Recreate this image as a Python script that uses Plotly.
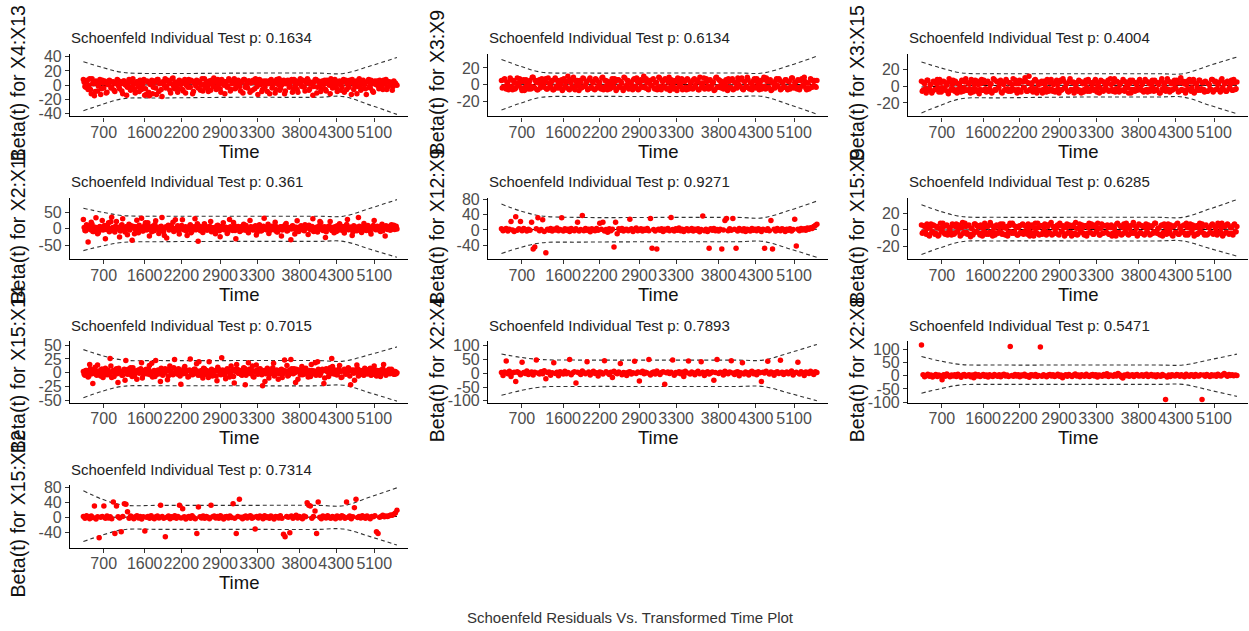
import plotly.graph_objects as go

# ---------------- data ----------------
time_tick_labels = ["700", "1600", "2200", "2900", "3300", "3800", "4300", "5100"]
time_tick_pos = [0.0648, 0.1955, 0.3121, 0.4362, 0.5538, 0.6884, 0.806, 0.9276]  # km-transformed time

band_time = [0, 0.0603, 0.1256, 0.2462, 0.4975, 0.7487, 0.8291, 0.9146, 1.0]

terms = ["X4:X13", "X3:X9", "X3:X15", "X2:X11", "X12:X9", "X15:X9",
         "X15:X14", "X2:X4", "X2:X8", "X15:X12"]
p_values = ["0.1634", "0.6134", "0.4004", "0.361", "0.9271", "0.6285",
            "0.7015", "0.7893", "0.5471", "0.7314"]

resid_X4_X13 = [
    8, -2, 5, -6, 9, -12, 3, -15, 6, -8, 2, -13, 7, -4, 4, -10, 1, 6, -3, 5,
    -9, 3, 7, -5, 2, -12, 6, 0, -3, 8, -7, 4, 1, -11, 5, -2, 7, -6, 3, -14,
    -13, 5, -15, 2, -12, 6, -4, 8, -9, 3, -16, 4, 9, -2, 6, -7, 2, 10, -5, 4,
    -10, 7, 1, -6, 5, -11, 3, 8, -3, 6, -9, 2, 7, -4, 5, 0, -8, 9, 3, -2,
    6, -7, 4, 10, -3, 7, 1, -5, 8, 2, -12, 5, -1, 7, -6, 3, 9, -4, 6, 0,
    -8, 5, 8, -3, 2, 6, -10, 4, 7, -5, 3, -13, 8, 1, -6, 6, 2, -9, 5, 7,
    -4, 3, -11, 8, 1, -7, 6, 4, -12, 2, 7, -3, 5, -10, 8, 0, -6, 4, 9, -2,
    6, -8, 3, 7, -5, 2, -14, 5, 8, -3, 4, -9, 6, 1, -6, 7, 3, -12, 5, -2,
    8, -4, 2, 6, -7, 4, -10, 7, 1, -3, 5, 8, -6, 3, -12, 6, 0, -5, 7, 2,
    -13, 5, -2, 7, -8, 4, 1, 6, -5, 3, -3, 7, 2, -6, 5, 0, 4, -2, 3, 1]
resid_X4_X13_b = [
    4, -3, 7, 0, -6, 9, 2, -9, 5, -1, 8, -5, 3, 6, -11, 1, 7, -4, 4, -7,
    2, 8, -2, 5, -8, 6, 1, -14, 3, 7, -3, 9, -6, 2, 5, -9, 4, 0, 8, -5,
    6, -10, 1, 7, -3, 4, -13, 8, 2, -6, 5, 0, -4, 7, 3, -11, 9, -2, 4, 1,
    -5, 6, 2, -8, 8, 0, -3, 5, 7, -12, 3, -1, 6, 4, -7, 9, 1, -4, 5, -9,
    2, 7, -2, 4, -6, 8, 3, -10, 6, 0, 5, -3, 9, -8, 2, 6, -5, 1, 7, -2,
    4, -11, 8, 0, -4, 6, 3, -7, 5, 9, -2, 1, 7, -9, 4, -3, 6, 2, -12, 8,
    0, 5, -6, 3, 9, -4, 1, 7, -8, 5, 2, -1, 8, -5, 4, 6, -10, 3, 0, 7,
    -3, 5, 9, -7, 2, 4, -2, 8, -11, 6, 1, -5, 3, 7, -8, 5, 0, 9, -4, 2,
    6, -9, 4, 1, -3, 8, 5, -6, 2, 7, -13, 3, 0, 6, -2, 9, -7, 4, 1, -5,
    5, 8, -4, 2, -10, 6, 3, -1, 7, 4, -6, 2, 8, -3, 5, 1, -7, 6, 3, 0]
resid_X3_X9 = [
    5, -3, 7, -5, 3, -2, 6, -6, 2, -4, 8, -1, 4, -7, 6, -3, 1, -5, 5, -2,
    9, -4, 3, -6, 6, 0, 4, -3, 7, -5, 2, -2, 5, -6, 8, -4, 3, -1, 6, -5,
    4, -3, 10, -6, 2, -4, 6, -2, 5, -7, 3, -3, 7, -1, 4, -5, 8, -4, 2, -6,
    6, -2, 3, -5, 9, -3, 5, -6, 1, -4, 7, -2, 4, -5, 6, -3, 2, -7, 8, -1,
    5, -4, 3, -6, 7, -2, 4, -5, 6, -3, 10, -4, 2, -6, 5, -1, 7, -5, 3, -3,
    8, -6, 4, -2, 6, -4, 9, -3, 2, -5, 5, -7, 3, -1, 7, -4, 4, -6, 6, -2,
    3, -5, 7, -3, 5, -6, 2, -2, 8, -4, 4, -5, 6, -1, 3, -6, 9, -3, 5, -4,
    2, -2, 6, -7, 4, -3, 7, -5, 3, -4, 5, -2, 8, -6, 4, -3, 6, -5, 2, -1,
    7, -4, 3, -6, 5, -2, 9, -5, 4, -3, 6, -6, 2, -4, 7, -2, 5, -5, 3, -3,
    6, -6, 4, -2, 8, -4, 3, -5, 5, -3, 7, -1, 4, -6, 2, -4, 6, -2, 5, -3]
resid_X3_X9_b = [
    -4, 6, -2, 3, -6, 8, -3, 5, -5, 2, -1, 7, -4, 4, -7, 6, -2, 3, -5, 9,
    -3, 5, -6, 2, -4, 7, -1, 4, -5, 8, -3, 3, -6, 6, -2, 5, -4, 1, -7, 7,
    -2, 4, -5, 6, -3, 9, -6, 3, -1, 5, -4, 8, -2, 2, -6, 6, -3, 4, -5, 7,
    -4, 3, -2, 8, -6, 5, -1, 4, -5, 2, -3, 7, -7, 6, -2, 4, -4, 9, -3, 5,
    -5, 2, -1, 6, -4, 8, -6, 3, -2, 5, -3, 7, -5, 4, -1, 6, -4, 2, -6, 9,
    -2, 5, -3, 7, -5, 3, -7, 6, -1, 4, -4, 8, -2, 2, -6, 5, -3, 7, -5, 3,
    -4, 6, -1, 4, -6, 9, -3, 2, -5, 7, -2, 5, -4, 3, -7, 8, -3, 6, -1, 4,
    -5, 2, -2, 7, -4, 5, -6, 3, -3, 8, -1, 6, -5, 4, -2, 9, -4, 2, -6, 5,
    -3, 7, -1, 3, -5, 6, -2, 8, -4, 4, -7, 2, -3, 5, -1, 7, -6, 3, -2, 6,
    -4, 4, -5, 8, -2, 3, -3, 6, -6, 5, -1, 9, -4, 2, -5, 7, -3, 4, -2, 5]
resid_X3_X15 = [
    6, -5, 3, -8, 7, -3, 2, -6, 5, -4, 8, -7, 4, -2, 6, -5, 1, -9, 5, -3,
    7, -6, 4, -4, 2, -7, 6, -2, 9, -5, 3, -8, 5, -3, 7, -6, 2, -4, 8, -5,
    4, -7, 6, -3, 3, -6, 8, -5, 5, -2, 7, -8, 2, -4, 6, -6, 4, -3, 9, -5,
    3, -4, 7, -7, 5, -2, 6, -6, 12, -5, 4, -3, 8, -8, 2, -5, 6, -4, 3, -7,
    5, -3, 8, -6, 4, -5, 2, -8, 7, -4, 6, -2, 3, -7, 9, -5, 5, -3, 4, -6,
    6, -8, 3, -4, 7, -6, 5, -3, 2, -5, 8, -7, 4, -2, 6, -6, 3, -4, 7, -5,
    2, -6, 9, -3, 5, -7, 4, -5, 6, -2, 3, -8, 7, -4, 5, -6, 2, -3, 8, -5,
    4, -5, 6, -7, 3, -3, 7, -6, 5, -4, 2, -8, 9, -5, 4, -3, 6, -7, 3, -4,
    7, -3, 4, -6, 10, -5, 3, -8, 6, -4, 5, -2, 8, -6, 3, -5, 7, -3, 4, -7,
    5, -6, 2, -4, 8, -5, 6, -3, 4, -7, 9, -4, 3, -6, 5, -2, 7, -5, 4, -3]
resid_X3_X15_b = [
    -6, 4, -3, 7, -5, 2, -8, 6, -4, 3, -2, 8, -7, 5, -3, 4, -6, 9, -5, 2,
    -4, 6, -8, 3, -2, 7, -6, 5, -5, 4, -3, 8, -7, 2, -4, 6, -9, 3, -5, 7,
    -3, 5, -6, 2, -8, 9, -4, 6, -2, 3, -7, 5, -5, 8, -3, 4, -6, 2, -4, 7,
    -8, 3, -5, 6, -2, 10, -6, 4, -4, 2, -7, 7, -3, 5, -5, 3, -8, 6, -2, 8,
    -6, 4, -4, 2, -7, 7, -3, 5, -5, 9, -2, 3, -6, 6, -4, 4, -8, 2, -3, 7,
    -5, 5, -7, 3, -2, 8, -6, 4, -4, 6, -3, 2, -8, 7, -5, 5, -2, 3, -6, 9,
    -4, 4, -7, 6, -3, 2, -5, 8, -6, 5, -2, 3, -8, 7, -4, 4, -5, 6, -3, 2,
    -7, 8, -4, 5, -6, 3, -2, 7, -5, 4, -8, 6, -3, 2, -6, 9, -4, 5, -5, 3,
    -2, 7, -7, 4, -4, 6, -5, 2, -3, 8, -6, 5, -8, 3, -2, 7, -5, 4, -4, 6,
    -6, 3, -3, 8, -7, 5, -4, 2, -5, 7, -2, 4, -6, 6, -3, 3, -5, 8, -4, 5]
resid_X2_X11 = [
    28, -5, 12, -40, 6, 20, -8, 3, 33, -15, 5, -3, 25, 8, -30, 2, 18, -6, 35, 4,
    -10, 22, 1, -25, 9, 30, -4, 6, -18, 14, 2, -35, 7, -2, 26, -12, 5, 32, -7, 10,
    -3, 18, -22, 4, 8, -6, 24, 1, -14, 6, 34, -9, 3, -28, 11, -1, 7, 20, -5, 2,
    9, -16, 4, 27, -3, 6, -20, 2, 12, -8, 5, 30, -2, -38, 8, 1, -11, 15, 3, -4,
    6, 22, -7, 2, -15, 9, 3, -24, 7, 18, -2, 4, -9, 28, 1, -5, 10, -30, 5, 3,
    -6, 8, 14, -3, 2, -12, 25, 5, -4, 7, -19, 1, 12, -7, 3, 32, -2, 6, -14, 4,
    8, -3, 20, -9, 2, 5, -22, 7, 1, 16, -5, 3, -33, 9, 4, -2, 24, -8, 6, 1,
    -4, 12, 3, -17, 7, 2, 30, -6, 4, -10, 9, 18, -3, 5, -26, 1, 8, 22, -5, 3,
    6, -8, 2, 15, -4, 7, -13, 3, 28, -2, 5, -20, 9, 1, -6, 34, 4, -11, 7, 2,
    -5, 10, 3, -16, 6, 25, -3, 8, 1, -8, 14, 4, -22, 2, 7, -4, 12, 5, -2, 8]
resid_X2_X11_b = [
    4, -6, 9, 2, -3, 14, -8, 5, 1, -12, 7, 3, -4, 10, -2, 6, -9, 21, 3, -5,
    8, -1, 4, -7, 12, 2, -10, 5, 0, -4, 9, 3, -15, 6, -2, 11, 4, -6, 1, 18,
    -3, 7, 2, -9, 5, 13, -1, 4, -6, 8, 0, -20, 6, 3, -4, 9, 1, -8, 27, 2,
    -5, 6, 10, -2, 4, -7, 1, 8, -12, 3, 6, -3, 15, 2, -6, 5, -1, 9, -4, 0,
    7, -9, 3, 4, -2, 11, -6, 1, 8, -3, 5, -14, 2, 6, -1, 19, -5, 3, 7, -8,
    2, 5, -4, 10, -7, 1, 6, -2, 3, 9, -11, 4, 0, -5, 8, 2, -3, 14, -6, 1,
    5, -2, 7, -10, 3, 6, -4, 1, 12, -7, 2, 4, -1, 8, -16, 5, 3, -3, 9, 0,
    -6, 4, 2, 11, -3, 7, -8, 1, 5, -2, 22, 3, -5, 6, -9, 2, 8, -1, 4, -12,
    3, 9, -4, 1, 6, -7, 2, 13, -3, 5, 0, -10, 7, 4, -2, 8, -5, 1, 16, -4,
    2, 6, -8, 3, 10, -1, 5, -3, 7, 1, -6, 4, 9, -2, 3, -4, 6, 11, 2, -1]
resid_X12_X9 = [
    3, -2, 1, 4, -3, 2, 22, 0, -4, 35, -1, 3, 22, -2, 4, 1, -3, 2, -1, 20,
    -50, -45, 3, 32, -2, 1, 27, -4, -60, 2, -1, 4, -3, 2, 0, 5, -2, 1, 32, -3,
    3, -1, 2, -4, 4, 0, -2, 3, 20, -3, 1, 38, -2, 4, -1, 2, -5, 3, 0, -2,
    4, -1, 18, 2, 20, -3, 1, -6, 3, -2, 2, -45, 20, -10, 3, -1, 4, -3, 1, 2,
    -2, 28, 3, -4, 1, 5, -2, 0, 3, -3, 2, -1, 4, -2, 30, -48, 1, -3, -50, 2,
    -1, 3, -4, 2, 0, 4, -2, 33, 1, -3, 3, -1, 5, -2, 2, -4, 1, 3, -2, 0,
    4, -3, 2, -1, 3, -5, 1, 37, -2, 2, -4, -48, 3, -1, 4, -2, 1, -3, 2, -50,
    0, 25, 30, -2, 3, -1, 30, 2, -48, -3, 4, 1, -2, 3, -4, 2, 0, -3, 4, -1,
    2, -2, 3, 1, -4, 2, -48, -1, 3, -2, 25, -50, 2, -3, 4, 0, -2, 3, 1, -4,
    2, -1, 3, -3, 1, 28, -42, 2, -2, 4, 0, 3, -1, 5, 2, 6, 4, 9, 12, 15]
resid_X15_X9 = [
    6, -3, 4, -5, 2, -7, 7, -2, 5, -4, 3, -6, 8, -1, 4, -5, 6, -3, 2, -6,
    5, -4, 7, -2, 3, -6, 9, -3, 4, -5, 6, -8, 2, -4, 7, -2, 5, -6, 3, -3,
    8, -5, 4, -3, 6, -7, 2, -4, 5, -2, 7, -5, 3, -6, 4, -3, 8, -4, 6, -2,
    3, -6, 5, -4, 7, -2, 4, -5, 2, -3, 6, -7, 8, -4, 3, -5, 5, -2, 7, -6,
    4, -3, 9, -5, 2, -4, 6, -6, 5, -2, 3, -5, 7, -3, 4, -7, 6, -4, 2, -5,
    7, -2, 3, -6, 5, -4, 8, -3, 4, -5, 6, -2, 2, -6, 7, -4, 5, -3, 3, -5,
    6, -4, 2, -7, 8, -3, 4, -5, 7, -2, 3, -6, 5, -4, 9, -3, 2, -5, 6, -4,
    4, -6, 7, -3, 3, -5, 5, -2, 8, -4, 2, -6, 6, -3, 4, -5, 7, -2, 3, -7,
    5, -3, 8, -5, 4, -2, 6, -6, 3, -4, 7, -3, 2, -5, 5, -4, 8, -2, 4, -6,
    6, -5, 3, -3, 7, -4, 2, -6, 5, -2, 8, -5, 4, -3, 6, -4, 3, -6, 7, -2]
resid_X15_X9_b = [
    -4, 5, -2, 7, -6, 3, -3, 6, -5, 4, -7, 2, -2, 8, -4, 5, -6, 3, -3, 7,
    -5, 4, -2, 6, -7, 3, -4, 8, -3, 5, -5, 2, -6, 7, -2, 4, -4, 6, -7, 3,
    -3, 5, -5, 9, -2, 4, -6, 6, -4, 3, -3, 7, -5, 2, -7, 5, -2, 8, -4, 4,
    -6, 3, -3, 6, -5, 5, -2, 7, -7, 4, -4, 2, -3, 8, -6, 5, -5, 3, -2, 6,
    -4, 7, -6, 4, -3, 2, -5, 8, -2, 5, -7, 3, -4, 6, -3, 4, -5, 9, -6, 2,
    -2, 6, -4, 5, -7, 3, -3, 7, -5, 4, -2, 8, -6, 2, -4, 5, -3, 6, -5, 3,
    -7, 4, -2, 7, -4, 5, -6, 3, -3, 8, -5, 2, -2, 6, -4, 4, -7, 7, -3, 5,
    -5, 3, -2, 6, -6, 4, -4, 8, -3, 2, -5, 5, -7, 7, -2, 3, -4, 6, -6, 4,
    -3, 7, -5, 2, -2, 5, -4, 8, -6, 3, -3, 6, -7, 4, -5, 2, -2, 7, -4, 5,
    -6, 3, -3, 6, -5, 4, -2, 8, -4, 2, -7, 5, -3, 7, -5, 3, -4, 6, -2, 4]
resid_X15_X14 = [
    2, -5, 4, -8, 15, 1, -20, 5, -3, 14, 3, -6, 6, -1, 8, -4, 2, 26, -9, 4,
    -2, 7, -18, 3, 1, -5, 6, 22, -3, 2, 9, -7, 4, 0, -12, 5, 2, 18, -4, 3,
    6, -2, 13, 1, -8, 4, 22, -3, 2, -16, 5, -1, 7, 3, -6, 12, 1, -4, 24, 2,
    -3, 5, -21, 2, 8, -1, 4, -7, 25, 3, -2, 6, 16, -5, 1, 4, -10, 7, 2, -3,
    20, 1, -6, 4, 3, -15, 6, -2, 27, 2, -4, 5, 1, -8, 12, 3, -19, 2, 6, -1,
    4, -5, 9, -22, 3, 18, -1, 5, -7, 2, 14, -3, 6, 1, -24, 4, -2, 8, -10, 3,
    2, 17, -4, 5, -12, 1, 6, -2, 23, 3, -6, 4, 24, -1, 7, -18, 2, 5, -4, 11,
    -3, 6, 1, -8, 4, 15, -2, 3, -5, 20, 2, -1, 6, -20, 4, 3, -7, 9, 26, -2,
    5, -4, 2, 13, -9, 3, 6, -3, 1, 7, -22, 4, -1, 5, 14, -6, 2, 3, -4, 8,
    1, -2, 6, -5, 3, 12, -3, 4, 2, -7, 5, 15, -1, 3, 4, -2, 6, 1, -3, -2]
resid_X15_X14_b = [
    -3, 4, 1, -6, 7, -2, 3, 10, -5, 2, -1, 6, -9, 3, 0, 5, -4, 12, 2, -7,
    5, -2, 8, 1, -5, 3, -14, 4, 6, -3, 1, 9, -6, 2, 4, -1, 7, -10, 3, 5,
    -2, 6, -4, 17, 1, -7, 3, 5, -2, 8, -5, 0, 4, -13, 6, 2, -3, 9, -1, 4,
    7, -6, 2, -2, 11, 3, -8, 5, 1, -4, 6, -1, 3, 20, -5, 2, 8, -3, 4, -9,
    1, 6, -2, 3, -6, 10, 2, -4, 5, 1, -11, 7, 3, -2, 4, -7, 6, 15, -1, 3,
    -4, 2, 8, -5, 1, 6, -2, 12, -8, 3, 5, -1, 7, -4, 2, -16, 4, 6, -3, 1,
    9, -6, 3, 2, -2, 5, -9, 4, 1, 13, -5, 3, 7, -2, 0, 6, -12, 4, 2, -4,
    5, 8, -3, 1, -7, 4, 2, 18, -1, 6, -5, 3, 4, -10, 7, 1, -3, 5, 11, -2,
    3, -4, 6, 2, -8, 4, 1, -1, 9, -6, 3, 5, -14, 2, 7, -3, 4, 1, -5, 6,
    -2, 3, 8, -4, 2, 5, -6, 1, 4, -2, 7, 3, -5, 2, 6, -1, 4, -3, 2, 0]
resid_X2_X4 = [
    3, -8, 5, 45, -2, 7, -12, 1, 4, -30, 6, 2, -5, 40, 3, -1, 8, -4, 2, 5,
    -6, 4, 48, 1, -3, 6, -2, 9, -20, 3, 5, -7, 2, 38, -1, 4, -9, 6, 1, -3,
    7, -2, 3, 50, -5, 2, 6, -35, 4, 1, -4, 8, 3, -2, 42, 5, -6, 2, 7, -1,
    2, -10, 5, 3, -3, 46, 6, 1, -4, 4, -15, 7, 2, -2, 5, 36, -5, 3, 1, -8,
    4, 6, -3, 2, 44, -1, 5, -28, 3, 7, -2, 4, 1, 50, -6, 2, 5, -3, 8, 1,
    -4, 3, 6, -40, 2, 5, -1, 4, 48, -7, 3, 1, 6, -2, 4, -12, 7, 2, 45, -3,
    5, 1, -5, 3, 7, -2, 42, 4, -8, 2, 6, -3, 1, 5, -25, 3, 50, -1, 4, 2,
    -6, 7, 3, -2, 5, 46, 1, -4, 4, 6, -9, 2, 38, -3, 5, 1, -6, 4, 7, -2,
    3, -5, 6, 2, -30, 4, 1, 7, 44, -3, 5, 2, -7, 3, 6, -1, 47, 4, -4, 2,
    5, -2, 3, 8, -6, 1, 4, 40, -3, 6, 2, -8, 5, 3, -1, 7, 2, -4, 6, 3]
resid_X2_X8 = [
    115, 3, -4, 1, 5, -2, 2, -5, 0, 4, -3, 2, -1, -15, 3, -2, 6, 1, -4, 2,
    -1, 3, -3, 5, 0, -6, 2, 4, -2, 1, 3, -4, 2, -8, 5, -1, 3, -3, 1, 4,
    -2, 2, -5, 3, 0, -3, 4, 1, -2, 3, -4, 2, 5, -1, 2, -3, 110, 1, -2, 4,
    -1, 3, -4, 2, 0, 5, -2, 1, -6, 3, 2, -1, 4, -3, 1, 108, -2, 3, 0, -4,
    2, 4, -1, 3, -3, 1, 5, -2, 2, -8, 0, 3, -2, 4, 1, -3, 2, 6, -1, 2,
    -4, 3, 1, -2, 5, 0, -3, 2, 4, -1, 3, -5, 2, 1, -2, 4, 0, 7, -3, 2,
    1, -2, 4, -1, 8, 3, -4, -9, 2, 0, 5, -2, 1, 3, -3, 2, 4, -1, 0, 3,
    -2, 2, 5, -3, 1, 4, -1, 2, -4, 3, 0, -2, 4, 1, -90, -5, 2, -3, 3, 1,
    -1, 4, 2, -2, 3, 0, -4, 5, 1, -2, 3, 2, -3, 4, 0, -1, 3, -90, 2, -2,
    4, 1, -3, 3, 0, 2, -2, 5, 1, -1, 3, 8, 2, -2, 4, 1, 3, 0, 2, 1]
resid_X15_X12 = [
    3, -2, 5, 1, -3, 4, 0, 30, -4, 2, -53, 1, 3, 30, -2, 4, -1, 2, -3, 41,
    -42, 30, 2, -1, -37, 3, 36, 35, 15, -2, 4, 1, -3, 2, 5, -1, 3, -4, 2, -35,
    1, 3, -2, 5, 0, -3, 2, 4, -1, 32, 3, -2, -50, 1, 4, -3, 2, 0, 5, -2,
    3, 32, -1, 23, 2, -4, 1, 3, -2, 5, 0, -3, -42, 28, 2, -1, 4, -2, 3, 1,
    -3, 32, 2, 4, -1, 3, -2, 5, 1, -4, 2, 3, -1, 4, 0, 36, -2, -42, 3, 48,
    1, -3, 2, 4, -1, 3, 5, -2, 1, -30, 3, -1, 4, 2, -3, 5, 0, 2, -2, 4,
    1, -4, 3, 2, -1, 5, -2, -44, -50, 3, 1, -40, 4, -2, 2, 6, -1, 3, 0, -3,
    4, 2, 39, 32, 30, -2, 3, 17, -42, 41, 1, -3, 4, 2, -1, 5, 0, -2, 3, 1,
    -3, 4, 2, -1, 5, 3, -2, 41, 1, 4, -3, 2, 26, 48, 0, 3, -1, 5, 2, -2,
    4, 1, -3, 3, 2, 5, -37, -42, 1, 3, 6, 2, 4, 3, 5, 7, 6, 9, 12, 19]

# fitted beta(t) and +/- 2 se bands at band_time
fit_X4_X13 = [-1, -0.5, 0, 0.5, 0.5, 0, 0, -0.5, -1]
up_X4_X13 = [33, 25, 18, 16.5, 17, 17, 16.5, 27, 39]
lo_X4_X13 = [-36, -27, -19, -18, -17, -17, -16, -28, -41]
fit_X3_X9 = [0, 0, 0.5, 0.5, 0.5, 0, 0.5, 0.5, 0]
up_X3_X9 = [30, 22, 15, 14, 14, 14, 14, 23, 34]
lo_X3_X9 = [-30, -22, -15, -14, -14, -14, -14, -24, -35]
fit_X3_X15 = [-1, 0, 0.5, 1, 1, 1, 1, 1, 1]
up_X3_X15 = [29, 22, 16, 15, 15, 15, 15, 25, 35]
lo_X3_X15 = [-32, -23, -15, -14, -13, -13, -13, -23, -33]
fit_X2_X11 = [-2, -1, 0, 0, 0, 0, 0, 0, 1]
up_X2_X11 = [62, 50, 40, 38, 38, 38, 38, 62, 88]
lo_X2_X11 = [-66, -52, -41, -39, -38, -38, -38, -62, -86]
fit_X12_X9 = [2, 1, 1, 1, 1, 1, 1, 1, 2]
up_X12_X9 = [68, 50, 37, 33, 33, 33, 32, 52, 76]
lo_X12_X9 = [-62, -46, -34, -32, -31, -31, -30, -50, -72]
fit_X15_X9 = [0, 0, 0, 0.5, 0.5, 0.5, 0.5, 0.5, 1]
up_X15_X9 = [30, 22, 16, 15, 15, 15, 15, 25, 36]
lo_X15_X9 = [-29, -21, -14, -13, -13, -13, -13, -22, -31]
fit_X15_X14 = [-1, 0, 0, 0, 0, 0, 0, 0, -1]
up_X15_X14 = [42, 31, 23, 22, 22, 22, 21, 33, 47]
lo_X15_X14 = [-46, -34, -25, -24, -24, -24, -23, -37, -52]
fit_X2_X4 = [-3, -2, 0, 0, 0, 0, 0, 1, 2]
up_X2_X4 = [70, 58, 50, 48, 48, 48, 48, 75, 105]
lo_X2_X4 = [-80, -63, -50, -48, -48, -48, -48, -73, -100]
fit_X2_X8 = [2, 1, 1, 1, 1, 1, 1, 1, 1]
up_X2_X8 = [72, 55, 42, 40, 40, 40, 40, 60, 81]
lo_X2_X8 = [-66, -49, -35, -33, -33, -33, -33, -55, -78]
fit_X15_X12 = [2, 1, 1, 1, 1, 1, 1, 2, 3]
up_X15_X12 = [70, 48, 33, 32, 32, 32, 31, 54, 78]
lo_X15_X12 = [-63, -46, -32, -31, -31, -31, -30, -50, -72]


def merge(a, b):
    """Interleave two halves of a residual series (events in time order)."""
    out = []
    for u, v in zip(a, b):
        out += [u, v]
    return out


resids = [merge(resid_X4_X13, resid_X4_X13_b), merge(resid_X3_X9, resid_X3_X9_b),
          merge(resid_X3_X15, resid_X3_X15_b), merge(resid_X2_X11, resid_X2_X11_b),
          resid_X12_X9, merge(resid_X15_X9, resid_X15_X9_b),
          merge(resid_X15_X14, resid_X15_X14_b), resid_X2_X4, resid_X2_X8, resid_X15_X12]
fits = [fit_X4_X13, fit_X3_X9, fit_X3_X15, fit_X2_X11, fit_X12_X9,
        fit_X15_X9, fit_X15_X14, fit_X2_X4, fit_X2_X8, fit_X15_X12]
ups = [up_X4_X13, up_X3_X9, up_X3_X15, up_X2_X11, up_X12_X9,
       up_X15_X9, up_X15_X14, up_X2_X4, up_X2_X8, up_X15_X12]
los = [lo_X4_X13, lo_X3_X9, lo_X3_X15, lo_X2_X11, lo_X12_X9,
       lo_X15_X9, lo_X15_X14, lo_X2_X4, lo_X2_X8, lo_X15_X12]

y_ticks = [[-40, -20, 0, 20, 40], [-20, 0, 20], [-20, 0, 20], [-50, 0, 50],
           [-40, 0, 40, 80], [-20, 0, 20], [-50, -25, 0, 25, 50],
           [-100, -50, 0, 50, 100], [-100, -50, 0, 50, 100], [-40, 0, 40, 80]]

# ---------------- layout constants ----------------
W, H = 1249, 631
FONT = "Liberation Sans, Arial, sans-serif"
y_ranges = [[-44, 44], [-37.8, 36.7], [-36.3, 38.7], [-92, 94], [-77, 85],
            [-34.7, 38.3], [-55.4, 57], [-108, 116], [-103, 129], [-79, 85]]
col_px = [(70, 408), (488, 828), (908, 1248)]
row_px = [(49, 113), (196, 259), (343, 406), (490, 554)]
ytitle_x = [18, 437, 857]
x_range = [-0.0427, 1.0352]

fig = go.Figure()
layout = dict(width=W, height=H, margin=dict(l=0, r=0, t=0, b=0),
              paper_bgcolor="white", plot_bgcolor="white", showlegend=False,
              font=dict(family=FONT, color="#333333"))
annotations = []

for i in range(10):
    r, c = divmod(i, 3)
    sfx = "" if i == 0 else str(i + 1)
    xa, ya = "x" + sfx, "y" + sfx
    x0, x1 = col_px[c]
    y0, y1 = row_px[r]
    ys = resids[i]
    n = len(ys)
    km_time = [k / (n - 1) for k in range(n)]  # events ordered on the transformed time scale

    fig.add_trace(go.Scatter(x=band_time, y=fits[i], mode="lines", xaxis=xa, yaxis=ya,
                             line=dict(color="black", width=1, shape="spline"),
                             hoverinfo="skip"))
    for band in (ups[i], los[i]):
        fig.add_trace(go.Scatter(x=band_time, y=band, mode="lines", xaxis=xa, yaxis=ya,
                                 line=dict(color="#333333", width=1.1, dash="4px,3px",
                                           shape="spline", smoothing=1),
                                 hoverinfo="skip"))
    fig.add_trace(go.Scatter(x=km_time, y=ys, mode="markers", xaxis=xa, yaxis=ya,
                             marker=dict(color="#FF0000", size=5.5, line=dict(width=0))))

    layout["xaxis" + sfx] = dict(
        domain=[x0 / W, x1 / W], anchor=ya, range=x_range,
        tickmode="array", tickvals=time_tick_pos, ticktext=time_tick_labels,
        tickangle=0, ticks="outside", ticklen=4, tickwidth=1, tickcolor="#333333",
        ticklabelstandoff=-3,
        showline=True, linecolor="black", linewidth=1.2, showgrid=False, zeroline=False,
        tickfont=dict(family=FONT, size=16, color="#4d4d4d"))
    layout["yaxis" + sfx] = dict(
        domain=[1 - y1 / H, 1 - y0 / H], anchor=xa, range=y_ranges[i],
        tickmode="array", tickvals=y_ticks[i], ticktext=[str(v) for v in y_ticks[i]],
        ticks="outside", ticklen=4, tickwidth=1, tickcolor="#333333",
        showline=True, linecolor="black", linewidth=1.2, showgrid=False, zeroline=False,
        tickfont=dict(family=FONT, size=16, color="#4d4d4d"))

    annotations.append(dict(
        text="Schoenfeld Individual Test p: " + p_values[i],
        xref=xa + " domain", yref=ya + " domain", x=0, y=1,
        xanchor="left", yanchor="middle", yshift=16, xshift=-1, showarrow=False,
        font=dict(family=FONT, size=15, color="#222222")))
    annotations.append(dict(
        text="Time", xref=xa + " domain", yref=ya + " domain", x=0.5, y=0,
        xanchor="center", yanchor="middle", yshift=-35, showarrow=False,
        font=dict(family=FONT, size=18.5, color="#111111")))
    annotations.append(dict(
        text="Beta(t) for " + terms[i], xref="paper", yref=ya + " domain",
        x=ytitle_x[c] / W, y=0.5, xanchor="center", yanchor="middle",
        textangle=-90, showarrow=False, yshift=2,
        font=dict(family=FONT, size=19.5, color="#111111")))

annotations.append(dict(
    text="Schoenfeld Residuals Vs. Transformed Time Plot", xref="paper", yref="paper",
    x=630 / W, y=1 - 625 / H, xanchor="center", yanchor="middle", showarrow=False,
    font=dict(family=FONT, size=15, color="#333333")))

layout["annotations"] = annotations
fig.update_layout(**layout)
fig.write_html("out.html")
